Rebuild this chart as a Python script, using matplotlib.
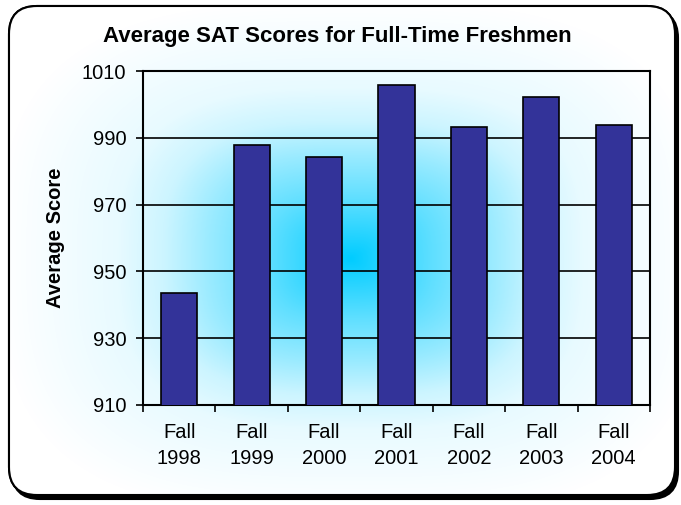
import numpy as np
import matplotlib.pyplot as plt
from matplotlib.patches import FancyBboxPatch

plt.rcParams['font.family'] = ['Liberation Sans', 'DejaVu Sans']

# data
years = ['Fall\n1998', 'Fall\n1999', 'Fall\n2000', 'Fall\n2001',
         'Fall\n2002', 'Fall\n2003', 'Fall\n2004']
scores = [943.5, 987.8, 984.2, 1005.9, 993.2, 1002.2, 993.8]
yticks = [910, 930, 950, 970, 990, 1010]

fig = plt.figure(figsize=(6.81, 5.05), dpi=100)

# background: centre-out gradient filling the rounded chart box
bg = fig.add_axes([0, 0, 1, 1])
bg.set_xlim(0, 681)
bg.set_ylim(505, 0)
bg.axis('off')
xx, yy = np.meshgrid(np.arange(681), np.arange(505))
p = 3.0
s = ((np.abs(xx - 350) / 333.0) ** p + (np.abs(yy - 258) / 244.0) ** p) ** (1 / p)
t = np.interp(s, [0, 0.25, 0.42, 0.56, 0.7, 1.05], [0, 0.38, 0.6, 0.8, 0.91, 1.0])
c0 = np.array([0.0, 0.80, 1.0])
c1 = np.array([1.0, 1.0, 1.0])
img = c0[None, None, :] * (1 - t[..., None]) + c1[None, None, :] * t[..., None]

shadow = FancyBboxPatch((12, 10), 666, 489, boxstyle='round,pad=0,rounding_size=28',
                        fc='black', ec='black', lw=1.5)
bg.add_patch(shadow)
box = FancyBboxPatch((9, 6), 666, 489, boxstyle='round,pad=0,rounding_size=28',
                     fc='white', ec='black', lw=1.5)
bg.add_patch(box)
im = bg.imshow(img, extent=(0, 681, 505, 0), zorder=2)
im.set_clip_path(box)
border = FancyBboxPatch((9, 6), 666, 489, boxstyle='round,pad=0,rounding_size=28',
                        fc='none', ec='black', lw=1.5, zorder=3)
bg.add_patch(border)

ax = fig.add_axes([143 / 681, 1 - 405 / 505, 507 / 681, 334 / 505])
ax.patch.set_alpha(0)
x = np.arange(len(years))
ax.bar(x, scores, width=0.5, color='#333399', edgecolor='black', linewidth=1.2, zorder=3)
ax.set_xlim(-0.5, len(years) - 0.5)
ax.set_ylim(910, 1010)
ax.set_yticks(yticks)
ax.yaxis.grid(True, color='black', linewidth=1.2)
ax.set_axisbelow(True)
ax.set_xticks(x)
ax.set_xticklabels(years, fontsize=14.5, linespacing=1.45)
ax.set_xticks(np.arange(-0.5, len(years)), minor=True)
ax.tick_params(axis='x', which='major', length=0, pad=13)
ax.tick_params(axis='x', which='minor', length=5, width=1.2)
ax.tick_params(axis='y', length=5, width=1.2, labelsize=14.5, pad=7)
for sp in ax.spines.values():
    sp.set_linewidth(1.5)
ax.set_ylabel('Average Score', fontsize=14.5, fontweight='bold', labelpad=12)
fig.text(0.495, 0.927, 'Average SAT Scores for Full-Time Freshmen',
         ha='center', va='center', fontsize=16, fontweight='bold')

fig.savefig('out.png', dpi=100)
